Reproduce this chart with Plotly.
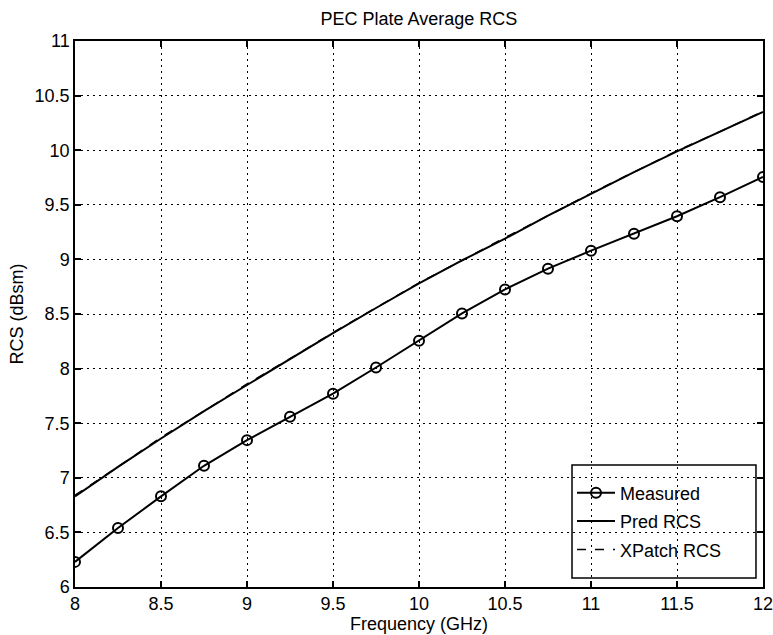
import plotly.graph_objects as go

# Frequency sample points (GHz)
freq = [8.0, 8.25, 8.5, 8.75, 9.0, 9.25, 9.5, 9.75, 10.0,
        10.25, 10.5, 10.75, 11.0, 11.25, 11.5, 11.75, 12.0]

# Average RCS (dBsm)
measured = [6.23, 6.54, 6.83, 7.11, 7.345, 7.56, 7.77, 8.01, 8.255,
            8.505, 8.725, 8.915, 9.08, 9.235, 9.395, 9.57, 9.755]
pred_rcs = [6.83, 7.10, 7.36, 7.61, 7.85, 8.09, 8.325, 8.555, 8.78,
            8.99, 9.19, 9.40, 9.60, 9.80, 9.99, 10.17, 10.35]
xpatch_rcs = [6.84, 7.10, 7.37, 7.61, 7.86, 8.09, 8.33, 8.555, 8.785,
              8.99, 9.20, 9.40, 9.605, 9.80, 9.995, 10.17, 10.355]

x_ticks = [8, 8.5, 9, 9.5, 10, 10.5, 11, 11.5, 12]
y_ticks = [6, 6.5, 7, 7.5, 8, 8.5, 9, 9.5, 10, 10.5, 11]

font = dict(family="Liberation Sans, Arial, sans-serif", size=18, color="black")

fig = go.Figure()

fig.add_trace(go.Scatter(
    x=freq, y=measured, name="Measured", mode="lines+markers",
    legendgroup="a",
    line=dict(color="black", width=2),
    marker=dict(symbol="circle-open", size=10, color="black", line=dict(width=2)),
))
fig.add_trace(go.Scatter(
    x=freq, y=pred_rcs, name="Pred RCS", mode="lines",
    legendgroup="b",
    line=dict(color="black", width=2),
))
fig.add_trace(go.Scatter(
    x=freq, y=xpatch_rcs, name="XPatch RCS", mode="lines",
    legendgroup="c",
    line=dict(color="black", width=1.5, dash="dash"),
))

axis_style = dict(
    showline=True, linecolor="black", linewidth=1.5, mirror="ticks",
    ticks="inside", ticklen=6, tickwidth=1.5, tickcolor="black",
    showgrid=True, gridcolor="black", gridwidth=1, griddash="2px,4px",
    zeroline=False, tickfont=font, automargin=False,
    ticklabeloverflow="allow",
)

fig.update_xaxes(
    range=[8, 12], tickvals=x_ticks,
    title=dict(text="Frequency (GHz)", font=font, standoff=2),
    **axis_style,
)
fig.update_yaxes(
    range=[6, 11], tickvals=y_ticks,
    title=dict(text="RCS (dBsm)", font=font, standoff=6),
    **axis_style,
)

# MATLAB-style legend frame
fig.add_shape(
    type="rect", xref="paper", yref="paper",
    x0=0.7224, x1=0.9898, y0=0.0165, y1=0.2234,
    line=dict(color="black", width=1.5), fillcolor="rgba(0,0,0,0)",
)

fig.update_layout(
    width=773, height=635,
    margin=dict(l=75, r=10, t=41, b=48),
    paper_bgcolor="white", plot_bgcolor="white",
    font=font,
    title=dict(text="PEC Plate Average RCS", x=0.542, xanchor="center",
               y=1 - 19 / 635, yanchor="middle", yref="container", font=font),
    legend=dict(
        x=0.7224, y=0.12, xanchor="left", yanchor="middle",
        bgcolor="rgba(0,0,0,0)", borderwidth=0,
        font=font, tracegroupgap=2, itemwidth=38,
    ),
)

# Drop the default page margin so the figure sits at the window's top-left
fig.write_html(
    "out.html",
    config={"displayModeBar": False},
    post_script="document.body.style.margin='0';",
)
